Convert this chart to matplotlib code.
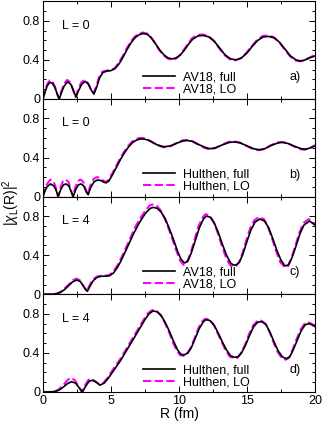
import numpy as np
import matplotlib
matplotlib.use('Agg')
import matplotlib.pyplot as plt
from matplotlib.ticker import MultipleLocator

plt.rcParams['font.family'] = ['Liberation Sans', 'DejaVu Sans']
plt.rcParams['mathtext.fontset'] = 'custom'
plt.rcParams['mathtext.rm'] = 'Liberation Sans'
plt.rcParams['mathtext.it'] = 'Liberation Sans:italic'

# ---- panel a) AV18, L = 0 ----
r_a_full = [0, 0.15, 0.3, 0.5, 0.7, 0.9, 1.05, 1.2, 1.35, 1.55, 1.8, 2.05, 2.25, 2.43,
            2.6, 2.85, 3.1, 3.35, 3.55, 3.75, 3.95, 4.15, 4.4, 4.7, 5.0, 5.3, 5.6, 5.9,
            6.2, 6.5, 6.8, 7.1, 7.4, 7.7, 8.0, 8.3, 8.6, 8.9, 9.2, 9.5, 9.8, 10.1, 10.4,
            10.7, 11.0, 11.4, 11.8, 12.2, 12.6, 13.0, 13.4, 13.8, 14.2, 14.6, 15.0, 15.4,
            15.8, 16.2, 16.6, 17.0, 17.4, 17.8, 18.2, 18.6, 18.9, 19.2, 19.6, 20.0]
v_a_full = [0, 0.07, 0.13, 0.17, 0.16, 0.11, 0.05, 0.0, 0.06, 0.13, 0.175, 0.15, 0.08, 0.02,
            0.08, 0.15, 0.18, 0.15, 0.09, 0.05, 0.12, 0.21, 0.27, 0.285, 0.29, 0.31, 0.36, 0.43,
            0.51, 0.58, 0.63, 0.66, 0.67, 0.66, 0.62, 0.56, 0.50, 0.45, 0.42, 0.41, 0.42, 0.45, 0.50,
            0.56, 0.61, 0.645, 0.65, 0.635, 0.59, 0.52, 0.45, 0.41, 0.40, 0.42, 0.47, 0.54,
            0.60, 0.635, 0.64, 0.625, 0.58, 0.51, 0.44, 0.40, 0.39, 0.395, 0.42, 0.44]
r_a_lo = [0, 0.15, 0.3, 0.5, 0.7, 0.9, 1.05, 1.18, 1.33, 1.53, 1.78, 2.03, 2.23, 2.4,
          2.57, 2.82, 3.07, 3.32, 3.52, 3.72, 3.92, 4.12, 4.37, 4.67, 4.97, 5.27, 5.57, 5.87,
          6.17, 6.47, 6.77, 7.07, 7.35, 7.65, 7.95, 8.25, 8.55, 8.85, 9.15, 9.45, 9.75, 10.05, 10.35,
          10.65, 10.95, 11.35, 11.75, 12.15, 12.55, 12.95, 13.35, 13.75, 14.15, 14.55, 14.95, 15.35,
          15.75, 16.15, 16.55, 16.95, 17.35, 17.75, 18.15, 18.55, 18.85, 19.15, 19.55, 20.0]
v_a_lo = [0, 0.08, 0.15, 0.19, 0.18, 0.12, 0.05, 0.0, 0.07, 0.15, 0.195, 0.17, 0.09, 0.02,
          0.09, 0.17, 0.195, 0.16, 0.10, 0.06, 0.13, 0.22, 0.28, 0.29, 0.295, 0.315, 0.37, 0.44,
          0.52, 0.59, 0.64, 0.67, 0.68, 0.67, 0.63, 0.57, 0.50, 0.45, 0.415, 0.40, 0.41, 0.445, 0.50,
          0.56, 0.62, 0.655, 0.66, 0.645, 0.60, 0.52, 0.45, 0.405, 0.395, 0.415, 0.47, 0.54,
          0.605, 0.645, 0.65, 0.635, 0.585, 0.51, 0.44, 0.395, 0.385, 0.39, 0.42, 0.45]

# ---- panel b) Hulthen, L = 0 ----
r_b_full = [0, 0.15, 0.3, 0.55, 0.8, 0.95, 1.13, 1.3, 1.5, 1.7, 1.9, 2.08, 2.23, 2.4,
            2.6, 2.8, 3.0, 3.18, 3.33, 3.5, 3.75, 4.0, 4.25, 4.45, 4.63, 4.85, 5.1, 5.4,
            5.7, 6.0, 6.3, 6.6, 6.9, 7.15, 7.4, 7.7, 8.0, 8.4, 8.9, 9.4, 9.9, 10.3, 10.6,
            11.0, 11.5, 12.0, 12.3, 12.7, 13.2, 13.7, 14.1, 14.5, 15.0, 15.5, 15.9, 16.3,
            16.8, 17.3, 17.6, 18.0, 18.5, 19.0, 19.3, 19.7, 20.0]
v_b_full = [0, 0.06, 0.1, 0.13, 0.11, 0.07, 0.0, 0.07, 0.12, 0.13, 0.11, 0.05, 0.0, 0.07,
            0.12, 0.13, 0.11, 0.05, 0.02, 0.09, 0.15, 0.17, 0.165, 0.15, 0.14, 0.16, 0.22, 0.30,
            0.38, 0.45, 0.51, 0.555, 0.58, 0.59, 0.59, 0.58, 0.56, 0.53, 0.51, 0.52, 0.55, 0.57, 0.575,
            0.565, 0.53, 0.50, 0.49, 0.50, 0.53, 0.555, 0.56, 0.55, 0.52, 0.49, 0.48, 0.49,
            0.525, 0.55, 0.555, 0.545, 0.515, 0.49, 0.485, 0.50, 0.52]
r_b_lo = [0, 0.15, 0.3, 0.55, 0.8, 0.95, 1.1, 1.28, 1.48, 1.68, 1.88, 2.05, 2.2, 2.37,
          2.57, 2.77, 2.97, 3.15, 3.3, 3.47, 3.72, 3.97, 4.22, 4.42, 4.6, 4.82, 5.07, 5.37,
          5.67, 5.97, 6.27, 6.57, 6.87, 7.1, 7.35, 7.65, 7.95, 8.35, 8.85, 9.35, 9.85, 10.25, 10.55,
          10.95, 11.45, 11.95, 12.25, 12.65, 13.15, 13.65, 14.05, 14.45, 14.95, 15.45, 15.85, 16.25,
          16.75, 17.25, 17.55, 17.95, 18.45, 18.95, 19.25, 19.65, 20.0]
v_b_lo = [0, 0.08, 0.13, 0.175, 0.15, 0.09, 0.0, 0.09, 0.16, 0.175, 0.15, 0.07, 0.0, 0.09,
          0.16, 0.175, 0.15, 0.07, 0.02, 0.11, 0.18, 0.2, 0.19, 0.165, 0.15, 0.17, 0.23, 0.31,
          0.39, 0.46, 0.52, 0.565, 0.59, 0.6, 0.6, 0.59, 0.565, 0.53, 0.505, 0.515, 0.55, 0.575, 0.58,
          0.57, 0.53, 0.495, 0.485, 0.495, 0.53, 0.56, 0.565, 0.555, 0.52, 0.485, 0.475, 0.485,
          0.525, 0.555, 0.56, 0.55, 0.515, 0.485, 0.48, 0.50, 0.525]

# ---- panel c) AV18, L = 4 ----
r_c_full = [0, 0.5, 1.0, 1.3, 1.6, 1.9, 2.2, 2.5, 2.75, 2.95, 3.1, 3.26, 3.45, 3.7,
            4.0, 4.3, 4.6, 4.9, 5.2, 5.5, 5.8, 6.1, 6.4, 6.7, 7.0, 7.3, 7.6, 7.9, 8.1, 8.4,
            8.7, 9.0, 9.3, 9.6, 9.9, 10.15, 10.4, 10.65, 10.9, 11.2, 11.5, 11.8, 12.0, 12.3,
            12.6, 12.9, 13.2, 13.5, 13.8, 14.0, 14.2, 14.45, 14.7, 15.0, 15.3, 15.6, 15.95,
            16.3, 16.6, 16.9, 17.2, 17.5, 17.8, 18.05, 18.3, 18.6, 18.9, 19.2, 19.6, 20.0]
v_c_full = [0, 0.0, 0.005, 0.02, 0.05, 0.09, 0.13, 0.145, 0.13, 0.09, 0.06, 0.03, 0.08, 0.14,
            0.175, 0.185, 0.185, 0.19, 0.22, 0.28, 0.36, 0.45, 0.54, 0.63, 0.71, 0.78, 0.84, 0.88, 0.89, 0.88,
            0.84, 0.77, 0.67, 0.56, 0.44, 0.36, 0.32, 0.34, 0.42, 0.55, 0.68, 0.77, 0.80, 0.79,
            0.73, 0.63, 0.51, 0.40, 0.32, 0.30, 0.30, 0.33, 0.41, 0.54, 0.66, 0.74, 0.77,
            0.75, 0.68, 0.57, 0.45, 0.35, 0.29, 0.30, 0.37, 0.49, 0.62, 0.71, 0.75, 0.71]
r_c_lo = [0, 0.5, 1.0, 1.3, 1.6, 1.9, 2.2, 2.45, 2.7, 2.9, 3.05, 3.22, 3.4, 3.65,
          3.95, 4.25, 4.55, 4.85, 5.15, 5.45, 5.75, 6.05, 6.35, 6.65, 6.95, 7.25, 7.55, 7.85, 8.05, 8.35,
          8.65, 8.95, 9.25, 9.55, 9.85, 10.1, 10.35, 10.6, 10.85, 11.15, 11.45, 11.75, 11.95, 12.25,
          12.55, 12.85, 13.15, 13.45, 13.75, 13.95, 14.15, 14.4, 14.65, 14.95, 15.25, 15.55, 15.9,
          16.25, 16.55, 16.85, 17.15, 17.45, 17.75, 18.0, 18.25, 18.55, 18.85, 19.15, 19.55, 20.0]
v_c_lo = [0, 0.0, 0.006, 0.025, 0.06, 0.1, 0.145, 0.16, 0.145, 0.1, 0.065, 0.03, 0.085, 0.15,
          0.18, 0.19, 0.19, 0.195, 0.23, 0.29, 0.37, 0.46, 0.55, 0.65, 0.73, 0.80, 0.86, 0.91, 0.92, 0.91,
          0.86, 0.78, 0.67, 0.55, 0.43, 0.34, 0.30, 0.33, 0.42, 0.56, 0.70, 0.79, 0.82, 0.81,
          0.74, 0.63, 0.50, 0.38, 0.30, 0.28, 0.285, 0.32, 0.41, 0.55, 0.68, 0.76, 0.79,
          0.77, 0.69, 0.57, 0.44, 0.33, 0.28, 0.285, 0.36, 0.49, 0.63, 0.73, 0.77, 0.72]

# ---- panel d) Hulthen, L = 4 ----
r_d_full = [0, 0.5, 0.9, 1.2, 1.5, 1.8, 2.1, 2.4, 2.65, 2.9, 3.15, 3.4, 3.65, 3.9,
            4.2, 4.5, 4.8, 5.1, 5.4, 5.7, 6.0, 6.3, 6.6, 6.9, 7.2, 7.5, 7.8, 8.1, 8.4, 8.7,
            9.0, 9.3, 9.6, 9.9, 10.15, 10.4, 10.65, 10.9, 11.2, 11.5, 11.8, 12.0, 12.3,
            12.6, 12.9, 13.2, 13.5, 13.8, 14.1, 14.35, 14.6, 14.9, 15.2, 15.5, 15.8, 16.1,
            16.4, 16.7, 17.0, 17.3, 17.6, 17.9, 18.15, 18.4, 18.7, 19.0, 19.3, 19.6, 20.0]
v_d_full = [0, 0.0, 0.005, 0.02, 0.05, 0.085, 0.105, 0.09, 0.045, 0.0, 0.06, 0.11, 0.12, 0.1,
            0.07, 0.09, 0.14, 0.2, 0.26, 0.32, 0.39, 0.46, 0.53, 0.60, 0.67, 0.74, 0.80, 0.83, 0.82, 0.78,
            0.71, 0.62, 0.52, 0.43, 0.385, 0.38, 0.40, 0.45, 0.55, 0.65, 0.72, 0.74, 0.73,
            0.68, 0.60, 0.51, 0.43, 0.37, 0.355, 0.36, 0.40, 0.48, 0.58, 0.67, 0.715, 0.72,
            0.69, 0.61, 0.51, 0.42, 0.36, 0.34, 0.36, 0.43, 0.53, 0.63, 0.69, 0.70, 0.67]
r_d_lo = [0, 0.5, 0.9, 1.2, 1.5, 1.8, 2.05, 2.35, 2.6, 2.85, 3.1, 3.35, 3.6, 3.85,
          4.15, 4.45, 4.75, 5.05, 5.35, 5.65, 5.95, 6.25, 6.55, 6.85, 7.15, 7.45, 7.75, 8.05, 8.35, 8.65,
          8.95, 9.25, 9.55, 9.85, 10.1, 10.35, 10.6, 10.85, 11.15, 11.45, 11.75, 11.95, 12.25,
          12.55, 12.85, 13.15, 13.45, 13.75, 14.05, 14.3, 14.55, 14.85, 15.15, 15.45, 15.75, 16.05,
          16.35, 16.65, 16.95, 17.25, 17.55, 17.85, 18.1, 18.35, 18.65, 18.95, 19.25, 19.55, 20.0]
v_d_lo = [0, 0.0, 0.006, 0.03, 0.07, 0.12, 0.145, 0.12, 0.06, 0.0, 0.07, 0.125, 0.13, 0.11,
          0.075, 0.095, 0.145, 0.21, 0.27, 0.33, 0.40, 0.47, 0.54, 0.61, 0.68, 0.75, 0.81, 0.84, 0.83, 0.79,
          0.71, 0.62, 0.51, 0.42, 0.375, 0.37, 0.39, 0.45, 0.55, 0.66, 0.73, 0.75, 0.74,
          0.69, 0.60, 0.51, 0.42, 0.36, 0.345, 0.35, 0.395, 0.48, 0.59, 0.68, 0.725, 0.73,
          0.70, 0.62, 0.51, 0.41, 0.35, 0.33, 0.35, 0.43, 0.54, 0.64, 0.70, 0.71, 0.68]

panels = [
    (r_a_full, v_a_full, r_a_lo, v_a_lo, 'AV18', '0', 'a)'),
    (r_b_full, v_b_full, r_b_lo, v_b_lo, 'Hulthen', '0', 'b)'),
    (r_c_full, v_c_full, r_c_lo, v_c_lo, 'AV18', '4', 'c)'),
    (r_d_full, v_d_full, r_d_lo, v_d_lo, 'Hulthen', '4', 'd)'),
]

fig, axes = plt.subplots(4, 1, figsize=(3.23, 4.21), dpi=100, sharex=True)
fig.subplots_adjust(left=0.133, right=0.975, top=0.997, bottom=0.069, hspace=0)

for ax, (rf, vf, rl, vl, name, L, tag) in zip(axes, panels):
    ax.plot(rl, vl, color='#ff00ff', lw=1.5, ls=(0, (4, 1.6)), label=f'{name}, LO', zorder=2)
    ax.plot(rf, vf, color='black', lw=1.2, label=f'{name}, full', zorder=3)
    ax.set_xlim(0, 20)
    ax.set_ylim(0, 1.0)
    ax.yaxis.set_minor_locator(MultipleLocator(0.1))
    ax.xaxis.set_major_locator(MultipleLocator(5))
    ax.xaxis.set_minor_locator(MultipleLocator(2.5))
    ax.set_yticks([0, 0.4, 0.8])
    ax.set_yticklabels(['0', '0.4', '0.8'])
    ax.tick_params(which='both', direction='in', top=True, right=True, labelsize=9, pad=2)
    ax.tick_params(which='major', length=4, width=0.7)
    ax.tick_params(which='minor', length=2.5, width=0.7)
    for s in ax.spines.values():
        s.set_linewidth(0.8)
    ax.text(0.07, 0.75, f'L = {L}', transform=ax.transAxes, fontsize=9, va='center')
    ax.text(0.905, 0.225, tag, transform=ax.transAxes, fontsize=9, va='center')
    h, lab = ax.get_legend_handles_labels()
    ax.legend(h[::-1], lab[::-1], loc='lower left', bbox_to_anchor=(0.368, 0.04),
              frameon=False, fontsize=9, handlelength=2.56, handletextpad=0.64,
              labelspacing=0.0, borderpad=0, borderaxespad=0)

axes[-1].set_xticks([0, 5, 10, 15, 20])
axes[-1].set_xlabel('R (fm)', fontsize=10, labelpad=0)
fig.text(0.035, 0.52, r'$|\chi_{\mathrm{L}}(\mathrm{R})|^2$', rotation=90, fontsize=10,
         va='center', ha='center')

fig.savefig('out.png', dpi=100)
